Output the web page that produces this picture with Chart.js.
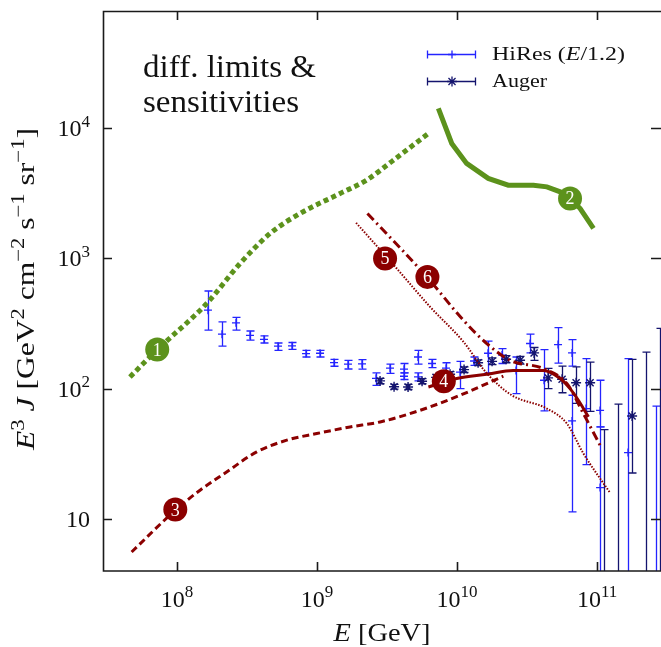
<!DOCTYPE html>
<html>
<head>
<meta charset="utf-8">
<script src="https://cdn.jsdelivr.net/npm/chart.js@4.4.1/dist/chart.umd.min.js"></script>
<style>
html, body { margin: 0; padding: 0; background: #fff; }
</style>
</head>
<body>
<canvas id="chart" width="661" height="647"></canvas>
<script>
// axis ranges and ticks (E in GeV, E^3 J)
const xMin = 2.96e7, xMax = 2.86e11;
const yMin = 3.98, yMax = 79300;
const xTicks = [1e8, 1e9, 1e10, 1e11];
const xTickExp = ['8', '9', '10', '11'];
const yTicks = [10, 100, 1000, 10000];
const yTickExp = ['', '2', '3', '4'];

// curve 1: green dotted
const greenDotE = [4.61e7, 7.16e7, 1.63e8, 2.82e8, 4.61e8, 7.57e8, 1.46e9, 2.26e9, 3.51e9, 6.24e9];
const greenDotJ = [123, 197, 451, 914, 1552, 2213, 3148, 3990, 5675, 9100];
// curve 2: green solid
const greenSolidE = [7.35e9, 9.16e9, 1.17e10, 1.67e10, 2.32e10, 3.51e10, 4.38e10, 5.45e10, 6.41e10, 7.57e10, 9.42e10];
const greenSolidJ = [14160, 7620, 5358, 4111, 3648, 3648, 3540, 3243, 2884, 2415, 1698];
// curve 3: red dashed
const redDashE = [4.74e7, 9.68e7, 1.46e8, 2.26e8, 3.71e8, 6.08e8, 9.95e8, 1.72e9, 2.82e9, 5.45e9, 1.05e10, 2.14e10];
const redDashJ = [5.57, 11.6, 16.6, 22.9, 32.7, 40.2, 45.2, 50.8, 55.5, 68.2, 88.9, 124.5];
// curve 4: red solid
const redSolidE = [6.24e9, 9.95e9, 1.63e10, 2.52e10, 4.13e10, 5.45e10, 6.41e10, 7.35e10, 8.67e10];
const redSolidJ = [103, 119.7, 129, 138, 138, 119.7, 100, 81.5, 60.7];
// curve 5: red dotted
const redDotE = [1.90e9, 3.71e9, 6.41e9, 1.11e10, 1.63e10, 2.46e10, 4.38e10, 6.08e10, 7.98e10, 1.24e11];
const redDotJ = [1875, 836, 425, 229, 131, 89, 70.3, 54, 31.8, 15.8];
// curve 6: red dash-dot
const redDashDotE = [2.29e9, 6.08e9, 1.11e10, 1.63e10, 2.39e10, 4.13e10, 6.08e10, 7.98e10, 1.08e11];
const redDashDotJ = [2213, 721, 335, 222, 165, 142.6, 109.4, 64.4, 34.7];

// HiRes (E/1.2)
const hiresE = [1.663e8, 2.094e8, 2.636e8, 3.319e8, 4.178e8, 5.26e8, 6.622e8, 8.337e8, 1.05e9, 1.322e9,
  1.663e9, 2.094e9, 2.636e9, 3.319e9, 4.178e9, 4.178e9, 5.26e9, 5.26e9, 6.622e9, 8.337e9,
  1.05e10, 1.322e10, 1.663e10, 2.094e10, 2.636e10, 3.319e10, 4.178e10, 5.26e10, 6.622e10, 6.622e10,
  8.337e10, 1.05e11, 1.05e11, 1.663e11, 2.636e11];
const hiresJ = [400, 262, 320, 256, 239, 212, 213, 186, 187, 158.5,
  154, 155, 120, 143.5, 141, 124.5, 175, 123, 156, 143.5,
  134, 163, 187, 181, 138, 222, 116, 218, 188, 56.5,
  70.3, 68, 17.4, 32.3, 2];
const hiresLo = [281, 212, 281, 236, 224, 197, 200, 175, 175, 148.5,
  141.5, 141, 106, 131, 132, 117.5, 154, 114.6, 145, 130,
  100, 151, 132, 156, 91.6, 188, 67.5, 157, 149, 11.3,
  26.1, 50.8, 1, 1, 1];
const hiresHi = [562, 325, 352, 277, 254, 224, 226, 197, 197, 168,
  165, 167, 132, 154, 156, 132, 197, 132, 168, 158,
  162, 175, 232, 203, 175, 262, 199.5, 294, 238, 89,
  170, 116, 50.8, 170, 73.3];

// Auger
const augerE = [2.818e9, 3.548e9, 4.467e9, 5.623e9, 7.079e9, 8.913e9, 1.122e10, 1.413e10, 1.778e10, 2.239e10,
  2.818e10, 3.548e10, 4.467e10, 5.623e10, 7.079e10, 8.913e10, 1.122e11, 1.413e11, 1.778e11, 2.239e11, 2.818e11];
const augerJ = [114.6, 103.5, 103, 114, 122, 129, 140, 158, 162, 168,
  165, 188, 121, 118, 111, 111, 2, 2, 61.7, 2, 2];
const augerLo = [109, 99, 98.5, 109, 116.5, 123, 133, 150, 153, 158,
  154, 165, 100, 93, 77, 67, 1, 1, 22.5, 1, 1];
const augerHi = [120, 108, 108, 119.5, 128, 135, 147, 166, 172, 179,
  177, 207, 143, 149, 147, 160, 48.5, 76, 167.6, 191, 290];

// numbered markers on the curves
const markText = ['1', '2', '3', '4', '5', '6'];
const markE = [7.22e7, 6.41e10, 9.72e7, 8.04e9, 3.06e9, 6.14e9];
const markJ = [199.5, 2884, 11.8, 114, 998, 721];

const green = '#5c921c';
const darkRed = '#8b0000';
const blue = '#2424ff';
const navy = '#14146e';
const serif = "'Liberation Serif', 'Times New Roman', serif";

function pts(xs, ys) {
    return xs.map((x, i) => ({x: x, y: ys[i]}));
}

function curve(xs, ys, color, width, dash, smooth) {
    return {
        data: pts(xs, ys),
        showLine: true,
        borderColor: color,
        borderWidth: width,
        borderDash: dash,
        borderCapStyle: 'butt',
        pointRadius: 0,
        pointHoverRadius: 0,
        cubicInterpolationMode: smooth ? 'monotone' : 'default',
        tension: 0
    };
}

// text with italic / superscript runs: [text, 'n' | 'i' | 's']
function runFont(kind, size) {
    const s = kind === 's' ? Math.round(size * 0.7) : size;
    return (kind === 'i' ? 'italic ' : '') + s + 'px ' + serif;
}

function runsWidth(ctx, runs, size) {
    let w = 0;
    runs.forEach(r => {
        ctx.font = runFont(r[1], size);
        w += ctx.measureText(r[0]).width;
    });
    return w;
}

function drawRich(ctx, runs, x, y, size, align, target) {
    const w = runsWidth(ctx, runs, size);
    const sx = target ? target / w : 1;
    ctx.save();
    ctx.translate(x, y);
    ctx.scale(sx, 1);
    let cx = align === 'center' ? -w / 2 : align === 'right' ? -w : 0;
    ctx.textAlign = 'left';
    ctx.textBaseline = 'alphabetic';
    runs.forEach(r => {
        ctx.font = runFont(r[1], size);
        ctx.fillText(r[0], cx, r[1] === 's' ? -size * 0.4 : 0);
        cx += ctx.measureText(r[0]).width;
    });
    ctx.restore();
}

const errorBars = {
    id: 'errorBars',
    afterDatasetDraw(chart, args) {
        const ds = chart.data.datasets[args.index];
        if (!ds.errLo) return;
        const {ctx, chartArea: a} = chart;
        const xs = chart.scales.x, ys = chart.scales.y;
        ctx.save();
        ctx.beginPath();
        ctx.rect(a.left, a.top, a.right - a.left, a.bottom - a.top);
        ctx.clip();
        ctx.strokeStyle = ds.borderColor;
        ctx.lineWidth = 1.3;
        ds.data.forEach((p, i) => {
            const px = Math.round(xs.getPixelForValue(p.x)) + 0.5;
            const lo = ys.getPixelForValue(ds.errLo[i]);
            const hi = ys.getPixelForValue(ds.errHi[i]);
            ctx.beginPath();
            ctx.moveTo(px, lo);
            ctx.lineTo(px, hi);
            ctx.moveTo(px - 4, lo);
            ctx.lineTo(px + 4, lo);
            ctx.moveTo(px - 4, hi);
            ctx.lineTo(px + 4, hi);
            ctx.stroke();
        });
        ctx.restore();
    }
};

const decorations = {
    id: 'decorations',
    afterDraw(chart) {
        const {ctx, chartArea: a} = chart;
        const xs = chart.scales.x, ys = chart.scales.y;
        ctx.save();

        // numbers in the markers
        const meta = chart.getDatasetMeta(0);
        ctx.fillStyle = '#fff';
        meta.data.forEach((el, i) => {
            drawRich(ctx, [[markText[i], 'n']], el.x, el.y + 6, 18, 'center');
        });

        // frame and inward ticks
        ctx.strokeStyle = '#1a1a1a';
        ctx.lineWidth = 1.6;
        ctx.beginPath();
        ctx.moveTo(a.right, a.top + 0.5);
        ctx.lineTo(a.left + 0.5, a.top + 0.5);
        ctx.lineTo(a.left + 0.5, a.bottom);
        ctx.lineTo(a.right, a.bottom);
        xTicks.forEach(v => {
            const px = Math.round(xs.getPixelForValue(v)) + 0.5;
            ctx.moveTo(px, a.bottom);
            ctx.lineTo(px, a.bottom - 9);
            ctx.moveTo(px, a.top);
            ctx.lineTo(px, a.top + 9);
        });
        yTicks.forEach(v => {
            const py = Math.round(ys.getPixelForValue(v)) + 0.5;
            ctx.moveTo(a.left, py);
            ctx.lineTo(a.left + 9, py);
            ctx.moveTo(a.right, py);
            ctx.lineTo(a.right - 10, py);
        });
        ctx.stroke();

        // tick labels
        ctx.fillStyle = '#111';
        xTicks.forEach((v, i) => {
            const px = xs.getPixelForValue(v);
            drawRich(ctx, [['10', 'n'], [xTickExp[i], 's']], px, a.bottom + 36, 24, 'center');
        });
        yTicks.forEach((v, i) => {
            const py = ys.getPixelForValue(v);
            const runs = yTickExp[i] ? [['10', 'n'], [yTickExp[i], 's']] : [['10', 'n']];
            drawRich(ctx, runs, 90, py + 8, 24, 'right');
        });

        // axis titles
        drawRich(ctx, [['E', 'i'], [' [GeV]', 'n']], (a.left + a.right) / 2, 641, 25, 'center', 97);
        ctx.save();
        ctx.translate(34, 289);
        ctx.rotate(-Math.PI / 2);
        drawRich(ctx, [['E', 'i'], ['3', 's'], [' ', 'n'], ['J', 'i'], [' [GeV', 'n'], ['2', 's'], [' cm', 'n'],
            ['\u22122', 's'], [' s', 'n'], ['\u22121', 's'], [' sr', 'n'], ['\u22121', 's'], [']', 'n']],
            0, 0, 25, 'center', 322);
        ctx.restore();

        // panel text
        drawRich(ctx, [['diff. limits &', 'n']], 143, 77, 31, 'left', 173);
        drawRich(ctx, [['sensitivities', 'n']], 143, 112, 31, 'left', 156);

        // key
        const keyRows = [
            {y: 54, color: blue, style: 'cross', runs: [['HiRes (', 'n'], ['E', 'i'], ['/1.2)', 'n']], w: 133},
            {y: 81, color: navy, style: 'star', runs: [['Auger', 'n']], w: 55}
        ];
        keyRows.forEach(row => {
            ctx.strokeStyle = row.color;
            ctx.lineWidth = 1.3;
            const y = row.y + 0.5;
            ctx.beginPath();
            ctx.moveTo(427, y);
            ctx.lineTo(476, y);
            ctx.moveTo(427.5, y - 4);
            ctx.lineTo(427.5, y + 4);
            ctx.moveTo(475.5, y - 4);
            ctx.lineTo(475.5, y + 4);
            ctx.stroke();
            Chart.helpers.drawPoint(ctx, {pointStyle: row.style, radius: row.style === 'star' ? 5 : 4, rotation: 0, borderWidth: 1.3}, 452, y);
            ctx.fillStyle = '#111';
            drawRich(ctx, row.runs, 492, row.y + 6, 19, 'left', row.w);
        });
        ctx.restore();
    }
};

const ctx = document.getElementById('chart').getContext('2d');
new Chart(ctx, {
    type: 'scatter',
    data: {
        datasets: [
            {
                data: pts(markE, markJ),
                pointRadius: 12,
                pointHoverRadius: 12,
                pointBorderWidth: 0,
                pointBackgroundColor: [green, green, darkRed, darkRed, darkRed, darkRed],
                pointBorderColor: 'rgba(0,0,0,0)'
            },
            curve(greenSolidE, greenSolidJ, green, 5, [], false),
            curve(greenDotE, greenDotJ, green, 5, [5, 3.5], true),
            curve(redDotE, redDotJ, darkRed, 2, [1.5, 1.5], true),
            curve(redDashDotE, redDashDotJ, darkRed, 3, [9, 4, 2, 4], true),
            curve(redSolidE, redSolidJ, darkRed, 3, [], true),
            curve(redDashE, redDashJ, darkRed, 3, [7, 4], true),
            {
                data: pts(augerE, augerJ),
                errLo: augerLo,
                errHi: augerHi,
                pointStyle: 'star',
                pointRadius: 5,
                pointHoverRadius: 5,
                borderColor: navy,
                backgroundColor: navy,
                borderWidth: 1.4
            },
            {
                data: pts(hiresE, hiresJ),
                errLo: hiresLo,
                errHi: hiresHi,
                pointStyle: 'cross',
                pointRadius: 4,
                pointHoverRadius: 4,
                borderColor: blue,
                backgroundColor: blue,
                borderWidth: 1.3
            }
        ]
    },
    options: {
        responsive: false,
        animation: false,
        devicePixelRatio: 1,
        events: [],
        layout: {autoPadding: false, padding: {top: 11, right: 0, left: 0, bottom: 0}},
        plugins: {legend: {display: false}, tooltip: {enabled: false}},
        scales: {
            x: {
                type: 'logarithmic',
                min: xMin,
                max: xMax,
                grid: {display: false},
                border: {display: false},
                ticks: {display: false},
                afterFit(scale) { scale.height = 76; }
            },
            y: {
                type: 'logarithmic',
                min: yMin,
                max: yMax,
                grid: {display: false},
                border: {display: false},
                ticks: {display: false},
                afterFit(scale) { scale.width = 103; }
            }
        }
    },
    plugins: [errorBars, decorations]
});
</script>
</body>
</html>
